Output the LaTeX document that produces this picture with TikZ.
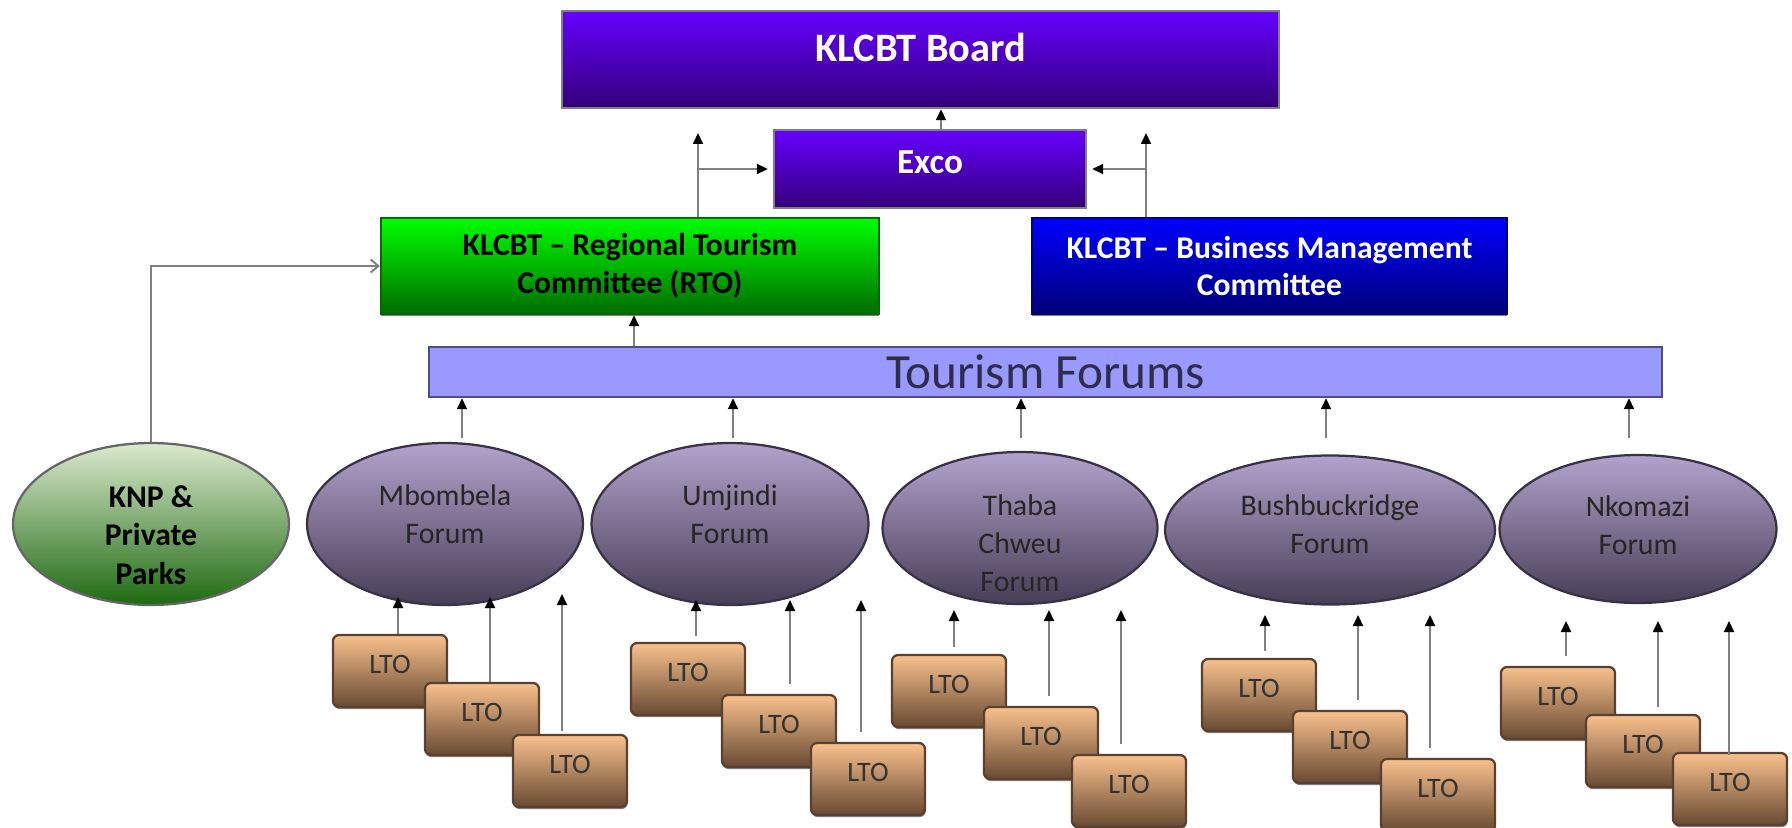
\documentclass[tikz,border=0pt]{standalone}
\usepackage{fontspec}
\setmainfont{Carlito}
\usetikzlibrary{shapes.geometric,arrows.meta,shadows,calc}

\definecolor{boardtop}{HTML}{6600FF}
\definecolor{boardbot}{HTML}{330078}
\definecolor{rtotop}{HTML}{00FF00}
\definecolor{rtobot}{HTML}{006C00}
\definecolor{bmctop}{HTML}{0000FF}
\definecolor{bmcbot}{HTML}{000078}
\definecolor{barfill}{HTML}{9999FF}
\definecolor{bartext}{HTML}{2E2E4A}
\definecolor{knptop}{HTML}{DCE9CE}
\definecolor{knpbot}{HTML}{1E6A12}
\definecolor{forumtop}{HTML}{B2A3CC}
\definecolor{forumbot}{HTML}{473D56}
\definecolor{ltotop}{HTML}{F9C18D}
\definecolor{ltobot}{HTML}{684A32}
\definecolor{ltoline}{HTML}{5A4030}

\newcommand{\lowpad}[1]{\rule[-#1]{0pt}{#1}}
\newcommand{\toppad}[1]{\rule{0pt}{#1}}

\tikzset{
	topbox/.style={rectangle, draw=gray, line width=0.5mm, inner sep=0pt,
		top color=boardtop, bottom color=boardbot, text=white},
	committee/.style={rectangle, line width=0.5mm, inner sep=0pt, align=center,
		minimum height=1.92cm, drop shadow={shadow xshift=0pt, shadow yshift=-1.4pt, fill=gray, opacity=1},
		font=\fontsize{18}{21.5}\selectfont\bfseries},
	forum/.style={ellipse, draw=forumbot!80!black, line width=0.45mm, inner sep=0pt, align=center,
		top color=forumtop, bottom color=forumbot, text=black!85,
		font=\fontsize{17}{21.5}\selectfont},
	lto/.style={rectangle, rounded corners=1.2mm, draw=ltoline, line width=0.45mm,
		minimum width=2.28cm, minimum height=1.44cm, inner sep=0pt, text depth=8pt,
		top color=ltotop, bottom color=ltobot, text=black!80,
		drop shadow={shadow xshift=0.4pt, shadow yshift=-1.2pt, fill=gray, opacity=1},
		font=\fontsize{16}{18}\selectfont},
	upline/.style={draw=gray, line width=0.4mm, -{Triangle[length=2.2mm, width=2mm, color=black]}},
	barbline/.style={draw=gray, line width=0.4mm, -{Straight Barb[length=1.5mm, width=2.6mm]}}
}

\begin{document}
\begin{tikzpicture}[x=0.02cm, y=-0.02cm]
	\useasboundingbox (0,0) rectangle (1792,828);
	
	\node[topbox, minimum width=14.34cm, minimum height=1.94cm, text depth=13.6pt,
		font=\fontsize{23}{27}\selectfont\bfseries] (board) at (920.5,59.5) {KLCBT Board};
	\node[topbox, minimum width=6.24cm, minimum height=1.56cm, text depth=7.4pt,
		font=\fontsize{20}{24}\selectfont\bfseries] (exco) at (930,169) {Exco};
	
	\node[committee, minimum width=9.96cm, draw=rtobot, top color=rtotop, bottom color=rtobot,
		text=black] (rto) at (630,266) {KLCBT -- Regional Tourism\\Committee (RTO)};
	\node[committee, minimum width=9.5cm, draw=bmcbot, top color=bmctop, bottom color=bmcbot,
		text=white] (bmc) at (1269.5,266) {KLCBT -- Business Management\\Committee};
	
	\node[rectangle, draw=bartext!70!barfill, line width=0.5mm, fill=barfill, inner sep=0pt,
		minimum width=24.66cm, minimum height=1cm, text=bartext,
		font=\fontsize{28}{32}\selectfont] (bar) at (1045.5,372) {Tourism Forums};
	
	\node[ellipse, draw=gray!80!black, line width=0.45mm, inner xsep=0pt, inner ysep=-7pt, align=center,
		minimum width=5.52cm, minimum height=3.24cm, top color=knptop, bottom color=knpbot,
		font=\fontsize{18}{22}\selectfont\bfseries] (knp) at (151,524) {\toppad{25pt}KNP \&\\Private\\Parks};
	
	\node[forum, minimum width=5.52cm, minimum height=3.24cm] (mbo) at (445,524) {Mbombela\\Forum\lowpad{11pt}};
	\node[forum, minimum width=5.54cm, minimum height=3.24cm] (umj) at (730,524) {Umjindi\\Forum\lowpad{11pt}};
	\node[forum, minimum width=5.5cm, minimum height=3.04cm, inner ysep=-9pt] (tha) at (1020,528) {\toppad{29pt}Thaba\\Chweu\\Forum};
	\node[forum, minimum width=6.6cm, minimum height=2.98cm] (bus) at (1330,530) {Bushbuckridge\\Forum\lowpad{7pt}};
	\node[forum, minimum width=5.54cm, minimum height=2.96cm] (nko) at (1638,529) {Nkomazi\\Forum\lowpad{4.5pt}};
	
	\node[lto] (m1) at (390,671) {LTO};
	\node[lto] (m2) at (482,719) {LTO};
	\node[lto] (m3) at (570,771) {LTO};
	\node[lto] (u1) at (688,679) {LTO};
	\node[lto] (u2) at (779,731) {LTO};
	\node[lto] (u3) at (868,779) {LTO};
	\node[lto] (t1) at (949,691) {LTO};
	\node[lto] (t2) at (1041,743) {LTO};
	\node[lto] (t3) at (1129,791) {LTO};
	\node[lto] (b1) at (1259,695) {LTO};
	\node[lto] (b2) at (1350,747) {LTO};
	\node[lto] (b3) at (1438,795) {LTO};
	\node[lto] (n1) at (1558,703) {LTO};
	\node[lto] (n2) at (1643,751) {LTO};
	\node[lto] (n3) at (1730,789) {LTO};
	
	\coordinate (lt) at (698,133);
	\coordinate (rt) at (1146,133);
	\coordinate (ftop) at (0,438);
	\coordinate (mtip) at (0,597);
	\coordinate (utip) at (0,600);
	\coordinate (ttip) at (0,610);
	\coordinate (btip) at (0,615);
	\coordinate (ntip) at (0,621);
	
	\draw[upline] ($(exco.north)+(11,0)$) -- ($(exco.north |- board.south)+(11,0)$);
	\draw[upline] (lt |- rto.north) -- (lt);
	\draw[upline, shorten >=1mm] (lt |- exco.west) -- (exco.west);
	\draw[upline] (rt |- bmc.north) -- (rt);
	\draw[upline, shorten >=1mm] (rt |- exco.east) -- (exco.east);
	\draw[upline] ($(rto.south |- bar.north)+(4,0)$) -- ($(rto.south)+(4,0)$);
	\draw[barbline] (knp.north) |- (rto.west);
	
	\draw[upline] ($(mbo.north |- ftop)+(17,0)$) -- ($(mbo.north |- bar.south)+(17,0)$);
	\draw[upline] ($(umj.north |- ftop)+(3,0)$) -- ($(umj.north |- bar.south)+(3,0)$);
	\draw[upline] ($(tha.north |- ftop)+(1,0)$) -- ($(tha.north |- bar.south)+(1,0)$);
	\draw[upline] ($(bus.north |- ftop)+(-4,0)$) -- ($(bus.north |- bar.south)+(-4,0)$);
	\draw[upline] ($(nko.north |- ftop)+(-9,0)$) -- ($(nko.north |- bar.south)+(-9,0)$);
	
	\draw[upline] ($(m1.north)+(8,0)$) -- ($(m1.north |- mtip)+(8,0)$);
	\draw[upline] ($(m2.north)+(8,0)$) -- ($(m2.north |- mtip)+(8,0)$);
	\draw[upline] ($(m3.north)+(-8,-3)$) -- ($(m3.north |- mtip)+(-8,-3)$);
	\draw[upline] ($(u1.north)+(8,-6)$) -- ($(u1.north |- utip)+(8,0)$);
	\draw[upline] ($(u2.north)+(11,-10)$) -- ($(u2.north |- utip)+(11,0)$);
	\draw[upline] ($(u3.north)+(-7,-10)$) -- ($(u3.north |- utip)+(-7,0)$);
	\draw[upline] ($(t1.north)+(5,-7)$) -- ($(t1.north |- ttip)+(5,0)$);
	\draw[upline] ($(t2.north)+(8,-10)$) -- ($(t2.north |- ttip)+(8,0)$);
	\draw[upline] ($(t3.north)+(-8,-10)$) -- ($(t3.north |- ttip)+(-8,0)$);
	\draw[upline] ($(b1.north)+(6,-7)$) -- ($(b1.north |- btip)+(6,0)$);
	\draw[upline] ($(b2.north)+(8,-10)$) -- ($(b2.north |- btip)+(8,0)$);
	\draw[upline] ($(b3.north)+(-8,-10)$) -- ($(b3.north |- btip)+(-8,0)$);
	\draw[upline] ($(n1.north)+(8,-10)$) -- ($(n1.north |- ntip)+(8,0)$);
	\draw[upline] ($(n2.north)+(15,-7)$) -- ($(n2.north |- ntip)+(15,0)$);
	\draw[upline] ($(n3.north)+(-1,3)$) -- ($(n3.north |- ntip)+(-1,0)$);
	
\end{tikzpicture}
\end{document}
